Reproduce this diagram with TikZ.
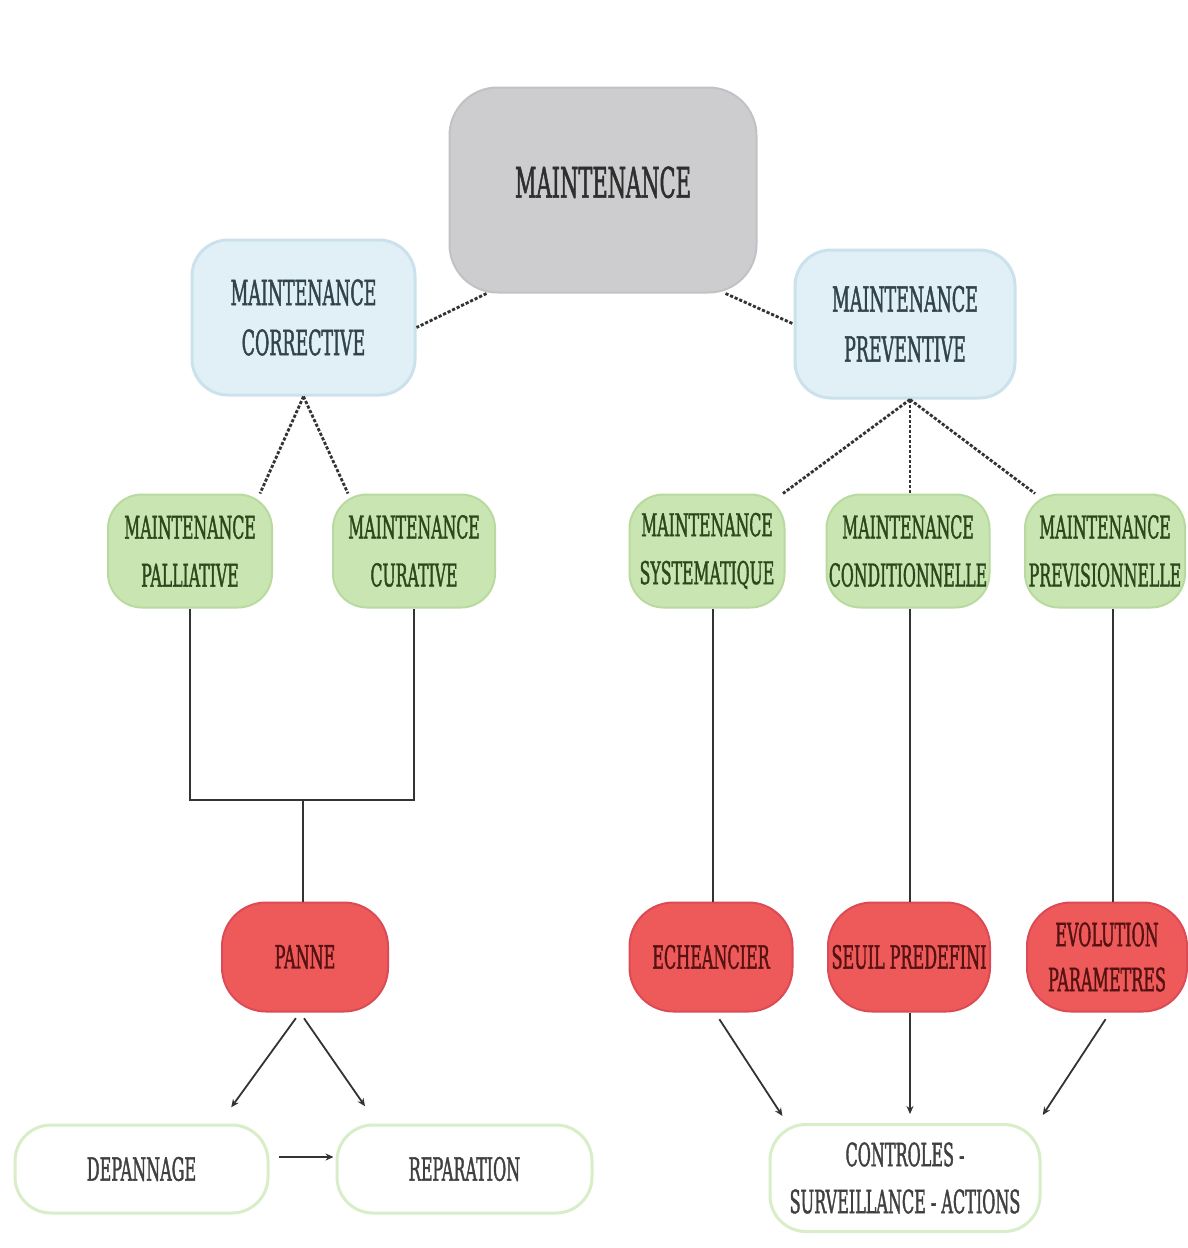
\documentclass[tikz,border=0pt]{standalone}
\usepackage{fontspec}
\setmainfont{DejaVu Serif}[FakeStretch=0.5, FakeBold=1.2, AutoFakeBold=0]
\usetikzlibrary{calc,arrows.meta}

\definecolor{grayfill}{HTML}{CDCCCF}
\definecolor{grayedge}{HTML}{C2C1C5}
\definecolor{graytext}{HTML}{2E2E2E}
\definecolor{bluefill}{HTML}{E0F0F6}
\definecolor{blueedge}{HTML}{CBE2EC}
\definecolor{bluetext}{HTML}{33434A}
\definecolor{greenfill}{HTML}{C9E6B2}
\definecolor{greenedge}{HTML}{B9DA9E}
\definecolor{greentext}{HTML}{2A481B}
\definecolor{redfill}{HTML}{EE5A5A}
\definecolor{rededge}{HTML}{DC4B55}
\definecolor{redtext}{HTML}{561212}
\definecolor{outlinegreen}{HTML}{D8EDC8}
\definecolor{plaintext}{HTML}{404040}
\definecolor{linecol}{HTML}{333333}

\begin{document}
\begin{tikzpicture}[x=0.5pt,y=-0.5pt,
  box/.style={rectangle, align=center, inner sep=0pt},
  topbox/.style={box, fill=grayfill, draw=grayedge, line width=1pt,
    rounded corners=24pt, text=graytext, font=\fontsize{21}{26}\selectfont},
  bluebox/.style={box, fill=bluefill, draw=blueedge, line width=1.5pt,
    rounded corners=18pt, text=bluetext, font=\fontsize{17.4}{25}\selectfont},
  greenbox/.style={box, fill=greenfill, draw=greenedge, line width=1pt,
    rounded corners=17pt, minimum height=56.5pt, text=greentext,
    font=\fontsize{15.7}{24}\selectfont},
  redbox/.style={box, fill=redfill, draw=rededge, line width=1pt,
    rounded corners=22pt, minimum height=54.5pt, text=redtext,
    font=\fontsize{16}{22.5}\selectfont},
  outbox/.style={box, fill=white, draw=outlinegreen, line width=1.5pt,
    rounded corners=18pt, text=plaintext, font=\fontsize{16}{23.5}\selectfont},
  dashline/.style={draw=linecol, line width=1.4pt, dash pattern=on 1.6pt off 0.9pt},
  solidline/.style={draw=linecol, line width=0.9pt},
  arrowline/.style={solidline, -{Stealth[length=4pt,width=3.5pt]}}
]
\useasboundingbox[fill=white] (0,0) rectangle (1188,1248);

% top level
\node[topbox, minimum width=153.5pt, minimum height=102.5pt, text depth=8pt] (main) at (603,190) {MAINTENANCE};

% two families
\node[bluebox, minimum width=111.5pt, minimum height=77.5pt] (cor) at (303.5,317.5) {MAINTENANCE\\CORRECTIVE};
\node[bluebox, minimum width=110pt, minimum height=74pt] (pre) at (905,324) {MAINTENANCE\\PREVENTIVE};

% sub-types
\node[greenbox, minimum width=82pt] (pal) at (190,551) {MAINTENANCE\\PALLIATIVE};
\node[greenbox, minimum width=81pt] (cur) at (414,551) {MAINTENANCE\\CURATIVE};
\node[greenbox, minimum width=77.5pt] (sys) at (707,551) {MAINTENANCE\\SYSTEMATIQUE};
\node[greenbox, minimum width=81.5pt] (con) at (908,551) {MAINTENANCE\\CONDITIONNELLE};
\node[greenbox, minimum width=80pt] (prv) at (1105,551) {MAINTENANCE\\PREVISIONNELLE};

% triggers
\node[redbox, minimum width=83pt] (panne) at (305,957) {PANNE};
\node[redbox, minimum width=81.5pt] (ech) at (711,957) {ECHEANCIER};
\node[redbox, minimum width=81pt] (seu) at (909,957) {SEUIL PREDEFINI};
\node[redbox, minimum width=80pt] (evo) at (1107,957) {EVOLUTION\\PARAMETRES};

% actions
\node[outbox, minimum width=126.5pt, minimum height=44pt] (dep) at (141.5,1169) {DEPANNAGE};
\node[outbox, minimum width=127.5pt, minimum height=44pt] (rep) at (464.5,1169) {REPARATION};
\node[outbox, minimum width=135pt, minimum height=53.5pt] (ctl) at (905,1178) {CONTROLES -\\SURVEILLANCE - ACTIONS};

% dashed hierarchy links
\draw[dashline] ($(main.south west)+(38,0)$) -- ($(cor.east)+(0,10)$);
\draw[dashline] ($(main.south east)+(-32,0)$) -- (pre.west);
\draw[dashline] (cor.south) -- ($(pal.north)+(70,0)$);
\draw[dashline] (cor.south) -- ($(cur.north)+(-66,0)$);
\coordinate (prebot) at ($(pre.south)+(5,0)$);
\draw[dashline] (prebot) -- ($(sys.north)+(76,0)$);
\draw[dashline] (prebot) -- (prebot |- con.north);
\draw[dashline] (prebot) -- ($(prv.north)+(-70,0)$);

% corrective branch to the failure
\coordinate (join) at (303,800);
\draw[solidline] (pal.south) |- (join) -| (cur.south);
\draw[solidline] (join) -- (join |- panne.north);

% preventive branches to their triggers
\draw[solidline] ($(sys.south)+(6,0)$) -- ($(ech.north)+(2,0)$);
\draw[solidline] ($(con.south)+(2,0)$) -- ($(seu.north)+(1,0)$);
\draw[solidline] ($(prv.south)+(8,0)$) -- ($(evo.north)+(6,0)$);

% outcomes
\draw[arrowline, shorten <=3.5pt, shorten >=10pt] ($(panne.south)+(-5,0)$) -- ($(dep.north)+(78,0)$);
\draw[arrowline, shorten <=3.5pt, shorten >=10.5pt] ($(panne.south)+(-5,0)$) -- ($(rep.north)+(-87.5,0)$);
\draw[arrowline, shorten <=1pt] ($(dep.east)+(7,-12)$) -- ($(rep.west)+(-2,-12)$);
\draw[arrowline, shorten <=4pt, shorten >=4.2pt] ($(ech.south)+(4,0)$) -- ($(ctl.north)+(-118,0)$);
\draw[arrowline, shorten >=4.5pt] ($(seu.south)+(1,0)$) -- ($(ctl.north)+(5,0)$);
\draw[arrowline, shorten <=4pt, shorten >=4.8pt] ($(evo.south)+(3,0)$) -- ($(ctl.north)+(132.5,0)$);
\end{tikzpicture}
\end{document}
